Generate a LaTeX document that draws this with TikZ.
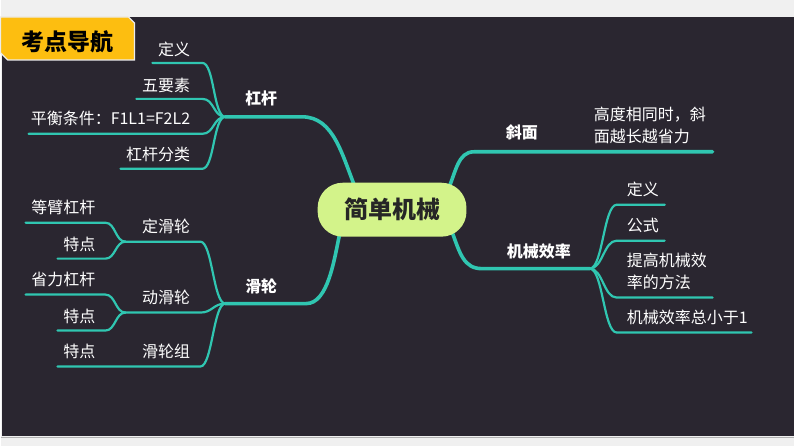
\documentclass[tikz,border=0pt]{standalone}
\usepackage{fontspec}
\setmainfont{Noto Sans CJK SC}
\definecolor{bgdark}{HTML}{2A2630}
\definecolor{topgray}{HTML}{F0F0F0}
\definecolor{tabyellow}{HTML}{FDBE10}
\definecolor{branchteal}{HTML}{30C6B1}
\definecolor{limefill}{HTML}{D3F38A}
\definecolor{darktext}{HTML}{262626}

\begin{document}
\begin{tikzpicture}
  [x=1pt,y=-1pt,every node/.style={inner sep=0pt,text=white,font=\fontsize{16}{22}\selectfont},
   main/.style={draw=branchteal,line width=3.6pt,line cap=round},
   sub/.style={draw=branchteal,line width=2.2pt,line cap=round},
   hd/.style={font=\fontsize{16}{22}\selectfont\bfseries}]
  \fill[topgray] (0,0) rectangle (794,447);
  \fill[bgdark] (1,17) rectangle (794,437);
  \draw[gray!60,line width=1pt] (0,438) -- (794,438);
  \filldraw[fill=tabyellow,draw=white!85!gray,line width=1.2pt]
    (0,17) -- (128,17) -- (134,23) -- (134,60) -- (7,60) -- (0,53) -- cycle;
  \node[text=black,font=\fontsize{23}{26}\selectfont\bfseries] (title) at (67,42) {考点导航};

  \coordinate (lg) at (225,117);   \coordinate (lg-k) at (302,117);
  \coordinate (hl) at (225,304);   \coordinate (hl-k) at (306,304);
  \coordinate (xm-k) at (474,152); \coordinate (xm-e) at (713,152);
  \coordinate (xl) at (590,269);   \coordinate (xl-k) at (482,269);
  \coordinate (jx-lg) at (356,190);
  \coordinate (jx-hl) at (340,232);
  \coordinate (jx-xm) at (448,190);
  \coordinate (jx-xl) at (452,232);

  \coordinate (dy-k) at (202,63);  \coordinate (dy-e) at (152,63);
  \coordinate (wys-k) at (202,99); \coordinate (wys-e) at (136,99);
  \coordinate (ph-k) at (202,134); \coordinate (ph-e) at (28,134);
  \coordinate (fl-k) at (202,169); \coordinate (fl-e) at (120,169);

  \coordinate (dhl-k) at (200,242); \coordinate (dhl) at (125,242);
  \coordinate (ddl-k) at (200,313); \coordinate (ddl) at (125,313);
  \coordinate (hlz-k) at (200,367); \coordinate (hlz-e) at (57,367);
  \coordinate (db-k) at (105,223);  \coordinate (db-e) at (25,223);
  \coordinate (dt-k) at (105,259);  \coordinate (dt-e) at (57,259);
  \coordinate (sl-k) at (105,295);  \coordinate (sl-e) at (25,295);
  \coordinate (dd-k) at (105,331);  \coordinate (dd-e) at (57,331);

  \coordinate (xdy-k) at (617,205); \coordinate (xdy-e) at (665,205);
  \coordinate (gs-k) at (617,241);  \coordinate (gs-e) at (665,241);
  \coordinate (tg-k) at (617,298);  \coordinate (tg-e) at (713,298);
  \coordinate (xs-k) at (617,333);  \coordinate (xs-e) at (752,333);

  \draw[main] (lg) -- (lg-k) .. controls +(32,0) and +(-14,-34) .. (jx-lg);
  \draw[main] (hl) -- (hl-k) .. controls +(22,0) and +(-6,28) .. (jx-hl);
  \draw[main] (jx-xm) .. controls +(8,-18) and +(-16,0) .. (xm-k) -- (xm-e);
  \draw[main] (jx-xl) .. controls +(8,22) and +(-18,0) .. (xl-k) -- (xl);

  \foreach \from/\to/\tip in {lg/dy-k/dy-e, lg/wys-k/wys-e, lg/ph-k/ph-e, lg/fl-k/fl-e,
      hl/dhl-k/dhl, hl/ddl-k/ddl, hl/hlz-k/hlz-e}
    \draw[sub] (\from) .. controls +(-12,0) and +(12,0) .. (\to) -- (\tip);
  \foreach \from/\to/\tip in {dhl/db-k/db-e, dhl/dt-k/dt-e, ddl/sl-k/sl-e, ddl/dd-k/dd-e}
    \draw[sub] (\from) .. controls +(-10,0) and +(10,0) .. (\to) -- (\tip);
  \foreach \from/\to/\tip in {xl/xdy-k/xdy-e, xl/gs-k/gs-e, xl/tg-k/tg-e, xl/xs-k/xs-e}
    \draw[sub] (\from) .. controls +(13,0) and +(-13,0) .. (\to) -- (\tip);

  \node[fill=limefill,rounded corners=25pt,minimum width=149pt,minimum height=54pt,
    text=darktext,font=\fontsize{24}{28}\selectfont\bfseries] (jx) at (392,210) {简单机械};

  \node[hd] (lg-t) at (261,99) {杠杆};
  \node[anchor=east] (dy) at (190,49) {定义};
  \node[anchor=east] (wys) at (190,86) {五要素};
  \node[anchor=east] (ph) at (190,119) {平衡条件：F1L1=F2L2};
  \node[anchor=east] (fl) at (190,155) {杠杆分类};

  \node[hd] (hl-t) at (261,287) {滑轮};
  \node[anchor=east] (dhl-t) at (190,227) {定滑轮};
  \node[anchor=east] (ddl-t) at (190,298) {动滑轮};
  \node[anchor=east] (hlz-t) at (190,352) {滑轮组};
  \node[anchor=east] (db) at (95,208) {等臂杠杆};
  \node[anchor=east] (dt) at (95,245) {特点};
  \node[anchor=east] (sl) at (95,280) {省力杠杆};
  \node[anchor=east] (dd) at (95,317) {特点};
  \node[anchor=east] (zt) at (95,352) {特点};

  \node[hd] (xm-t) at (522,133) {斜面};
  \node[anchor=west,align=left] (xm-n) at (594,126) {高度相同时，斜\\面越长越省力};

  \node[hd] (xl-t) at (539,252) {机械效率};
  \node[anchor=west] (xdy) at (627,190) {定义};
  \node[anchor=west] (gs) at (627,226) {公式};
  \node[anchor=west,align=left] (tg) at (627,272) {提高机械效\\率的方法};
  \node[anchor=west] (xs) at (627,318) {机械效率总小于1};
\end{tikzpicture}
\end{document}
